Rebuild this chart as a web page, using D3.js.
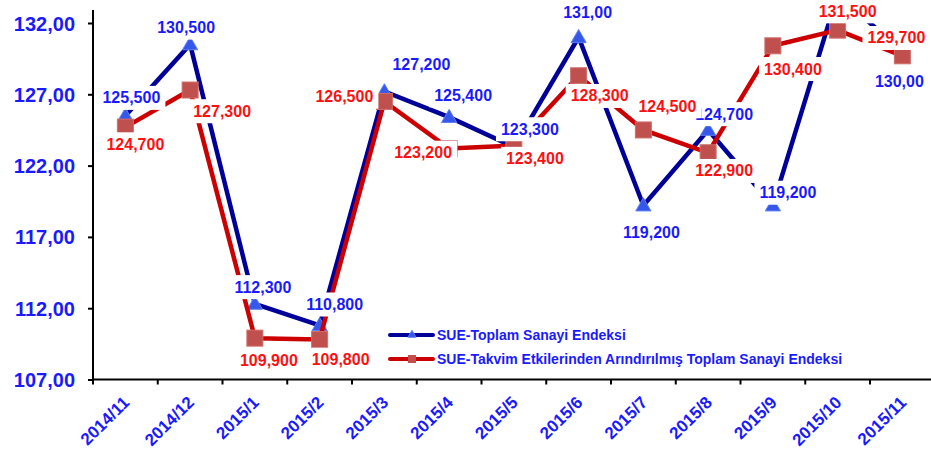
<!DOCTYPE html>
<html><head><meta charset="utf-8">
<script src="https://cdn.jsdelivr.net/npm/d3@7"></script>
<style>
html,body{margin:0;padding:0;background:#fff;}
svg{display:block;font-family:"Liberation Sans",Arial,sans-serif;font-weight:bold;}
</style></head>
<body>
<svg id="chart" width="931" height="452"></svg>
<script>
const categories = ["2014/11","2014/12","2015/1","2015/2","2015/3","2015/4","2015/5","2015/6","2015/7","2015/8","2015/9","2015/10","2015/11"];
const blueValues = [125.5,130.5,112.3,110.8,127.2,125.4,123.3,131.0,119.2,124.5,119.2,134.0,130.0];
const blueLabels = ["125,500","130,500","112,300","110,800","127,200","125,400","123,300","131,00","119,200","124,700","119,200","","130,00"];
const redValues = [124.7,127.3,109.9,109.8,126.5,123.2,123.4,128.3,124.5,122.9,130.4,131.5,129.7];
const redLabels = ["124,700","127,300","109,900","109,800","126,500","123,200","123,400","128,300","124,500","122,900","130,400","131,500","129,700"];
const yTicks = [107,112,117,122,127,132];
const seriesNames = ["SUE-Toplam Sanayi Endeksi","SUE-Takvim Etkilerinden Arındırılmış Toplam Sanayi Endeksi"];

// label nudges (text centre relative to the marker), layout only
const blueNudge = [[6,-18],[-4,-17],[8,-17],[15,-21],[37,-27],[14,-22],[16,-18],[9,-25],[8,27],[16,-16],[15,-13],[0,-18],[-3,30]];
const redNudge  = [[10,17],[32,21],[14,22],[21,20],[-40,-5],[-26,4],[21,13],[21,20],[24,-24],[16,18],[20,23],[10,-19],[-6,-18]];

const W = 931, H = 452;
const plotLeft = 93, plotBottom = 379.5, plotTop = 23, step = 64.75;
const svg = d3.select("#chart");

const x = d3.scaleBand().domain(categories).range([plotLeft, plotLeft + step*categories.length]).padding(0);
const y = d3.scaleLinear().domain([107,132]).range([plotBottom, plotTop]);
const cx = c => x(c) + x.bandwidth()/2;

const TEXT_BLUE = "#1a1aff", TEXT_RED = "#ff1010";
const LINE_BLUE = "#000099", LINE_RED = "#cc0000";
const MARK_BLUE = "#3558ea", MARK_RED = "#c0504d";

// Y axis
const yAxis = d3.axisLeft(y).tickValues(yTicks).tickSizeInner(5).tickSizeOuter(0)
  .tickFormat(d => d.toFixed(2).replace(".", ","));
const gy = svg.append("g").attr("transform", `translate(${plotLeft},0)`).call(yAxis);
gy.select(".domain").remove();
gy.selectAll(".tick line").attr("stroke","#000").attr("stroke-width",2);
gy.selectAll(".tick text").attr("x",-18).attr("dy",null).attr("y",7)
  .attr("fill",TEXT_BLUE).style("font-size","20px").style("font-weight","bold")
  .style("font-family",'"Liberation Sans",Arial,sans-serif');
svg.append("line").attr("x1",plotLeft).attr("x2",plotLeft).attr("y1",10).attr("y2",plotBottom+1)
  .attr("stroke","#000").attr("stroke-width",2);

// X axis
const xAxis = d3.axisBottom(x).tickSizeInner(5).tickSizeOuter(0);
const gx = svg.append("g").attr("transform", `translate(0,${plotBottom})`).call(xAxis);
gx.select(".domain").remove();
gx.selectAll(".tick line").attr("stroke","#000").attr("stroke-width",2)
  .attr("x1",-x.bandwidth()/2).attr("x2",-x.bandwidth()/2);
gx.selectAll(".tick text").attr("y",null).attr("dy",null)
  .attr("text-anchor","end").attr("transform","translate(5,24) rotate(-45)")
  .attr("fill",TEXT_BLUE).style("font-size","17px").style("font-weight","bold")
  .style("font-family",'"Liberation Sans",Arial,sans-serif');
svg.append("line").attr("x1",plotLeft-1).attr("x2",W).attr("y1",plotBottom).attr("y2",plotBottom)
  .attr("stroke","#000").attr("stroke-width",2);

const line = d3.line().x((d,i)=>cx(categories[i])).y(d=>y(d));
const tri = d3.symbol().type(d3.symbolTriangle).size(100);

// blue series
svg.append("path").datum(blueValues).attr("d",line).attr("fill","none")
  .attr("stroke",LINE_BLUE).attr("stroke-width",4.5).attr("stroke-linejoin","miter");
svg.append("g").selectAll("path").data(blueValues).join("path")
  .attr("d",tri).attr("transform",(d,i)=>`translate(${cx(categories[i])},${y(d)+1})`)
  .attr("fill",MARK_BLUE).attr("stroke","#5f80f5").attr("stroke-width",1);

// red series
svg.append("path").datum(redValues).attr("d",line).attr("fill","none")
  .attr("stroke",LINE_RED).attr("stroke-width",4.5).attr("stroke-linejoin","miter");
svg.append("g").selectAll("rect").data(redValues).join("rect")
  .attr("x",(d,i)=>cx(categories[i])-8).attr("y",d=>y(d)-8).attr("width",16).attr("height",16)
  .attr("fill",MARK_RED).attr("stroke","#cf6e6b").attr("stroke-width",1);

function labels(values, texts, nudge, color){
  const g = svg.append("g");
  values.forEach((v,i)=>{
    if(!texts[i]) return;
    const px = cx(categories[i]) + nudge[i][0];
    const py = y(v) + nudge[i][1];
    const lg = g.append("g");
    const t = lg.append("text").attr("x",px).attr("y",py+5.7).attr("text-anchor","middle")
      .attr("fill",color).style("font-size","16px").text(texts[i]);
    const bb = t.node().getBBox();
    lg.insert("rect","text").attr("x",bb.x-5).attr("y",bb.y-3.5).attr("width",bb.width+10).attr("height",bb.height+7)
      .attr("fill","#fff");
  });
}
labels(blueValues, blueLabels, blueNudge, TEXT_BLUE);
labels(redValues, redLabels, redNudge, TEXT_RED);

// legend
const lg = svg.append("g");
const legendRows = [
  {name: seriesNames[0], line: LINE_BLUE, mark: "tri", y: 335},
  {name: seriesNames[1], line: LINE_RED, mark: "sq", y: 359}
];
legendRows.forEach(r=>{
  lg.append("line").attr("x1",390).attr("x2",433).attr("y1",r.y).attr("y2",r.y)
    .attr("stroke",r.line).attr("stroke-width",4).attr("stroke-linecap","round");
  if(r.mark==="tri"){
    lg.append("path").attr("d",d3.symbol().type(d3.symbolTriangle).size(30)())
      .attr("transform",`translate(412,${r.y})`).attr("fill",MARK_BLUE).attr("stroke","#6a8af5").attr("stroke-width",0.8);
  } else {
    lg.append("rect").attr("x",408).attr("y",r.y-4).attr("width",8).attr("height",8)
      .attr("fill",MARK_RED);
  }
  lg.append("text").attr("x",437).attr("y",r.y+5).attr("fill",TEXT_BLUE)
    .style("font-size","14px").text(r.name);
});
</script>
</body></html>
